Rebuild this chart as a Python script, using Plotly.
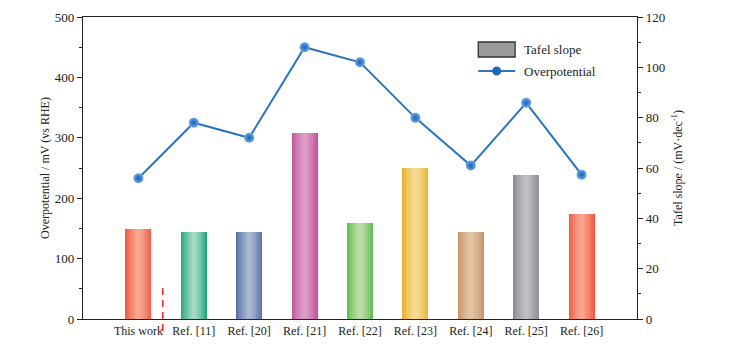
import plotly.graph_objects as go

categories = ["This work", "Ref. [11]", "Ref. [20]", "Ref. [21]", "Ref. [22]",
              "Ref. [23]", "Ref. [24]", "Ref. [25]", "Ref. [26]"]
tafel_slope = [35.6, 34.6, 34.4, 73.9, 38.0, 60.1, 34.6, 57.1, 41.7]
overpotential = [233, 325, 300, 450, 425, 333, 254, 358, 239]

edge_colors = ["#ef5f46", "#23a77f", "#5873a6", "#c3569d", "#67bd55",
               "#e8b234", "#c8966b", "#8a8c90", "#ee5e46"]
center_colors = ["#f7a690", "#a3dac6", "#a9b7d4", "#dd9cc7", "#badfa5",
                 "#f5dc94", "#e2c3a3", "#bfc0c3", "#f8a48e"]

def hex2rgb(h):
    h = h.lstrip("#")
    return tuple(int(h[i:i + 2], 16) for i in (0, 2, 4))

def mix(c1, c2, t):
    a, b = hex2rgb(c1), hex2rgb(c2)
    return "rgb(%d,%d,%d)" % tuple(round(a[i] + (b[i] - a[i]) * t) for i in range(3))

fig = go.Figure()

n_layers = 8
full_w = 0.47
for k in range(n_layers):
    t = k / (n_layers - 1)
    w = full_w * (1 - 0.85 * t)
    cols = [mix(e, c, t ** 0.8) for e, c in zip(edge_colors, center_colors)]
    fig.add_trace(go.Bar(
        x=categories, y=tafel_slope, width=w, yaxis="y",
        marker=dict(color=cols, line=dict(width=0)),
        showlegend=False, hoverinfo="skip" if k else None,
    ))

fig.add_trace(go.Scatter(
    x=categories, y=overpotential, yaxis="y2", mode="lines+markers",
    line=dict(color="#2b74c1", width=2),
    marker=dict(size=10, color="#6aa8e8",
                gradient=dict(type="radial", color="#1a5eae"),
                line=dict(width=0)),
    showlegend=False,
))

# page body has an 8px margin; compensate so the plot lands where the reference has it
PW, PH = 731, 345
ml, mt = 75, 9
plot_w, plot_h = 554, 302

font_family = "Liberation Serif"
fig.update_layout(
    width=PW, height=PH,
    margin=dict(l=ml, r=PW - ml - plot_w, t=mt, b=PH - mt - plot_h, autoexpand=False),
    paper_bgcolor="white", plot_bgcolor="white",
    barmode="overlay", bargap=0,
    font=dict(family=font_family, size=12, color="#222"),
    xaxis=dict(
        type="category", range=[-1, 9], showgrid=False,
        showline=True, linecolor="#222", linewidth=1.3, mirror=True,
        ticks="", tickfont=dict(size=12), zeroline=False,
    ),
    yaxis=dict(
        side="right", range=[0, 120], showgrid=False, zeroline=False,
        showline=True, linecolor="#222", linewidth=1.3,
        ticks="outside", ticklen=5, tickwidth=1.3, tickcolor="#222",
        dtick=20, tickfont=dict(size=13),
        minor=dict(ticks="outside", ticklen=3, tickwidth=1.2, tickcolor="#222", dtick=10),
        title=dict(text="Tafel slope / (mV·dec<sup>-1</sup>)", font=dict(size=12), standoff=9),
    ),
    yaxis2=dict(
        overlaying="y", side="left", range=[0, 500], showgrid=False, zeroline=False,
        showline=True, linecolor="#222", linewidth=1.3,
        ticks="outside", ticklen=5, tickwidth=1.3, tickcolor="#222",
        dtick=100, tickfont=dict(size=13),
        minor=dict(ticks="outside", ticklen=3, tickwidth=1.2, tickcolor="#222", dtick=50),
        title=dict(text="Overpotential / mV (vs RHE)", font=dict(size=12), standoff=2),
    ),
)

# dashed separator
fig.add_shape(type="line", xref="x", yref="paper", x0=0.44, x1=0.44,
              y0=0.103, y1=-0.04, line=dict(color="#e8303a", width=1.6, dash="7px,5px"))

# manual legend
fig.add_shape(type="rect", xref="paper", yref="paper",
              x0=0.7135, x1=0.78, y0=(319 - 42) / 302, y1=(319 - 57) / 302,
              fillcolor="#9b9b9b", line=dict(color="#333", width=1.3))
fig.add_annotation(xref="paper", yref="paper", x=0.792, y=(319 - 49.5) / 302,
                   text="Tafel slope", showarrow=False, xanchor="left", yanchor="middle",
                   font=dict(size=13))
fig.add_shape(type="line", xref="paper", yref="paper",
              x0=0.7135, x1=0.78, y0=(319 - 71) / 302, y1=(319 - 71) / 302,
              line=dict(color="#2b74c1", width=2))
fig.add_shape(type="circle", xref="paper", yref="paper",
              x0=0.7468 - 4.5 / 554, x1=0.7468 + 4.5 / 554,
              y0=(319 - 71) / 302 - 4.5 / 302, y1=(319 - 71) / 302 + 4.5 / 302,
              fillcolor="#2466b5", line=dict(width=0))
fig.add_annotation(xref="paper", yref="paper", x=0.792, y=(319 - 71) / 302,
                   text="Overpotential", showarrow=False, xanchor="left", yanchor="middle",
                   font=dict(size=13))

fig.write_html("out.html")
